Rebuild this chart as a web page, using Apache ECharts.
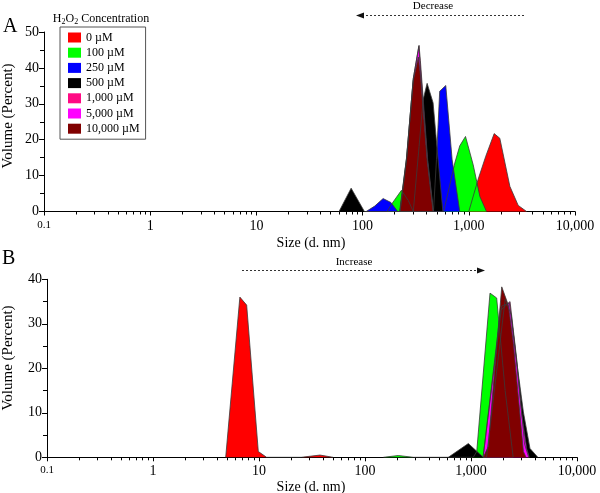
<!DOCTYPE html>
<html>
<head>
<meta charset="utf-8">
<script src="https://cdn.jsdelivr.net/npm/echarts@6/dist/echarts.min.js"></script>
<style>html,body{margin:0;padding:0;background:#fff}#c{width:600px;height:493px}</style>
</head>
<body>
<div id="c"></div>
<script>
// ---- categories / ticks ----
const concentrations = ['0 µM', '100 µM', '250 µM', '500 µM', '1,000 µM', '5,000 µM', '10,000 µM'];
const seriesColors = ['#ff0000', '#00ff00', '#0000ff', '#000000', '#ff0a84', '#ff00ff', '#800000'];
const xTickValues = [0.1, 1, 10, 100, 1000, 10000];
const xTickLabels = ['0.1', '1', '10', '100', '1,000', '10,000'];
const minorMultipliers = [2, 3, 4, 5, 6, 7, 8, 9];
const yMaxA = 50, yMaxB = 40, yStep = 10;

// ---- Panel A data: [size (d. nm), volume %] ----
const A_0uM     = [[1000,0],[1225,9],[1445,15.4],[1734,21.7],[1959,20.4],[2436,7],[2919,1.7],[3500,0]];
const A_100uM   = [[170,0],[186,1.9],[232,5.9],[270,3],[300,0],[580,0],[738,13.5],[822,18.3],[931,20.9],[1100,13],[1271,4.2],[1467,0]];
const A_250uM   = [[108,0],[130,1.5],[156,3.6],[185,2.5],[214,0],[465,0],[496,14.4],[532,33.5],[607,35.1],[697,14.4],[822,0]];
const A_500uM   = [[60,0],[78,6.5],[104,0],[300,0],[340,18],[372,31.2],[405,35.7],[461,30.3],[514,14.4],[570,0]];
const A_1000uM  = [[225,0],[260,15],[300,37],[340,46.3],[350,42],[410,14.4],[465,0]];
const A_5000uM  = [[225,0],[260,15],[300,37],[338,46],[348,41],[408,14.4],[463,0]];
const A_10000uM = [[223,0],[258,14.4],[299,36.3],[335,43],[350,38],[405,14.4],[461,0]];

// ---- Panel B data ----
const B_0uM     = [[4.85,0],[6.6,36],[7.65,34.2],[9.85,1.3],[11.8,0],[25,0],[37.6,0.5],[50,0]];
const B_100uM   = [[149,0],[206,0.4],[286,0],[1050,0],[1133,1.3],[1511,36.9],[1746,35.8],[2100,15],[2500,0]];
const B_250uM   = [];
const B_500uM   = [[611,0],[944,3.1],[1306,0],[1400,0],[2100,35.5],[2400,32],[2600,24.4],[3120,10.2],[3600,2],[4270,0]];
const B_1000uM  = [[1300,0],[1900,33],[2335,35],[2700,22],[3200,3],[3500,0]];
const B_5000uM  = [[1300,0],[1950,34],[2300,34.7],[2600,25],[3000,10],[3350,2],[3550,0]];
const B_10000uM = [[1306,0],[1455,2.4],[1950,38.3],[2250,34.2],[2510,25.6],[3120,1.3],[3300,0]];

const panelA = [A_0uM, A_100uM, A_250uM, A_500uM, A_1000uM, A_5000uM, A_10000uM];
const panelB = [B_0uM, B_100uM, B_250uM, B_500uM, B_1000uM, B_5000uM, B_10000uM];

const FONT = 'Liberation Serif';
const minorTicks = [];
xTickValues.slice(0, -1).forEach(d => minorMultipliers.forEach(m => minorTicks.push(m * d)));

function xMain(gridIndex, margin) {
  return {
    type: 'log', logBase: 10, gridIndex, position: 'bottom', min: xTickValues[0], max: xTickValues[xTickValues.length - 1],
    axisLine: { show: true, onZero: false, lineStyle: { color: '#000', width: 1 } },
    axisTick: { show: true, customValues: xTickValues, length: 4, inside: false, lineStyle: { color: '#000' } },
    axisLabel: {
      show: true, customValues: xTickValues, margin, color: '#000', fontFamily: FONT, fontSize: 14,
      formatter: v => {
        const i = xTickValues.findIndex(t => Math.abs(Math.log10(t) - Math.log10(v)) < 1e-6);
        const s = i >= 0 ? xTickLabels[i] : '';
        return i === 0 ? '{s|' + s + '}' : s;
      },
      rich: { s: { fontSize: 11, fontFamily: FONT, color: '#000' } }
    },
    splitLine: { show: false }
  };
}
function xMinor(gridIndex) {
  return {
    type: 'log', logBase: 10, gridIndex, position: 'bottom', min: xTickValues[0], max: xTickValues[xTickValues.length - 1],
    axisLine: { show: false, onZero: false },
    axisTick: { show: true, customValues: minorTicks, length: 3, lineStyle: { color: '#000' } },
    axisLabel: { show: false },
    splitLine: { show: false }
  };
}
function yAx(gridIndex, max) {
  return {
    type: 'value', gridIndex, min: 0, max, interval: yStep,
    axisLine: { show: true, lineStyle: { color: '#000' } },
    axisTick: { show: true, length: 5, lineStyle: { color: '#000' } },
    minorTick: { show: true, splitNumber: 2, length: 4, lineStyle: { color: '#000' } },
    axisLabel: { color: '#000', fontFamily: FONT, fontSize: 14, margin: 5 },
    splitLine: { show: false }
  };
}

const series = [];
[panelA, panelB].forEach((panel, p) => {
  panel.forEach((data, i) => {
    series.push({
      name: concentrations[i], type: 'line', xAxisIndex: p * 2, yAxisIndex: p,
      data, symbol: 'none', showSymbol: false, color: seriesColors[i],
      itemStyle: { color: seriesColors[i] },
      lineStyle: { color: '#3a3a3a', width: 0.8 },
      areaStyle: { color: seriesColors[i], opacity: 1 },
      silent: true
    });
  });
});

function arrow(x1, x2, y, dir) {
  const head = dir < 0 ? x1 : x2;
  const pts = dir < 0 ? [[head, y], [head + 8, y - 3], [head + 8, y + 3]] : [[head, y], [head - 8, y - 3], [head - 8, y + 3]];
  return [
    { type: 'line', shape: { x1: dir < 0 ? x1 + 6 : x1, y1: y, x2: dir < 0 ? x2 : x2 - 6, y2: y },
      style: { stroke: '#333', lineWidth: 1, lineDash: [2, 2] } },
    { type: 'polygon', shape: { points: pts }, style: { fill: '#111' } }
  ];
}

const option = {
  animation: false,
  grid: [
    { left: 44, top: 32, width: 531, height: 179.5 },
    { left: 47, top: 279.3, width: 530, height: 178 }
  ],
  xAxis: [xMain(0, 8), xMinor(0), xMain(1, 7), xMinor(1)],
  yAxis: [yAx(0, yMaxA), yAx(1, yMaxB)],
  legend: {
    data: concentrations, orient: 'vertical', left: 60, top: 27,
    padding: [4, 6, 4, 8], borderColor: '#555', borderWidth: 1,
    icon: 'rect', itemWidth: 13, itemHeight: 10, itemGap: 2.2,
    itemStyle: { borderWidth: 0 },
    textStyle: { fontFamily: FONT, fontSize: 12, color: '#000', lineHeight: 13 },
    selectedMode: false
  },
  graphic: [
    { type: 'text', left: 3, top: 17, style: { text: 'A', fontFamily: FONT, fontSize: 20, fill: '#000' } },
    { type: 'text', left: 2, top: 249, style: { text: 'B', fontFamily: FONT, fontSize: 20, fill: '#000' } },
    { type: 'text', x: 101, y: 19, style: { text: 'H{sub|2}O{sub|2} Concentration', fontFamily: FONT, fontSize: 12, fill: '#000', align: 'center', verticalAlign: 'middle',
      rich: { sub: { fontSize: 8, fontFamily: FONT, verticalAlign: 'bottom', padding: [6, 0, 0, 0] } } } },
    { type: 'text', x: 8, y: 116, rotation: Math.PI / 2, style: { text: 'Volume (Percent)', fontFamily: FONT, fontSize: 15, fill: '#000', align: 'center', verticalAlign: 'middle' } },
    { type: 'text', x: 8, y: 358, rotation: Math.PI / 2, style: { text: 'Volume (Percent)', fontFamily: FONT, fontSize: 15, fill: '#000', align: 'center', verticalAlign: 'middle' } },
    { type: 'text', x: 311, y: 243, style: { text: 'Size (d. nm)', fontFamily: FONT, fontSize: 14, fill: '#000', align: 'center', verticalAlign: 'middle' } },
    { type: 'text', x: 311, y: 487, style: { text: 'Size (d. nm)', fontFamily: FONT, fontSize: 14, fill: '#000', align: 'center', verticalAlign: 'middle' } },
    { type: 'text', x: 433, y: 6, style: { text: 'Decrease', fontFamily: FONT, fontSize: 11, fill: '#000', align: 'center', verticalAlign: 'middle' } },
    { type: 'text', x: 354, y: 262, style: { text: 'Increase', fontFamily: FONT, fontSize: 11, fill: '#000', align: 'center', verticalAlign: 'middle' } },
    ...arrow(356, 525, 15.5, -1),
    ...arrow(242, 485, 270.5, 1)
  ],
  series
};
const chart = echarts.init(document.getElementById('c'), null, { renderer: 'canvas' });
chart.setOption(option);
</script>
</body>
</html>
